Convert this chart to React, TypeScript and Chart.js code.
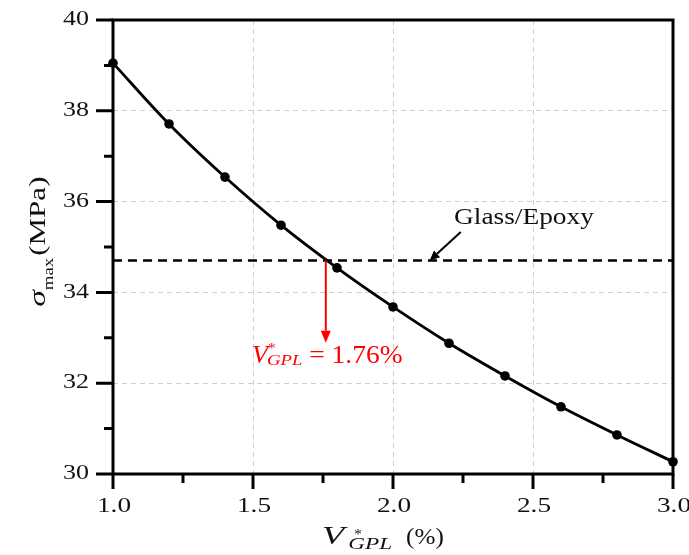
import React, { useEffect, useRef } from "react";
import { Chart, registerables } from "chart.js";

Chart.register(...registerables);

// ---- data ----
const volumeFractions = [1.0, 1.2, 1.4, 1.6, 1.8, 2.0, 2.2, 2.4, 2.6, 2.8, 3.0];
const sigmaMax = [39.05, 37.71, 36.54, 35.48, 34.54, 33.68, 32.88, 32.16, 31.48, 30.86, 30.27];
const glassEpoxyLevel = 34.7;
const criticalFraction = 1.76;
const criticalArrowEnd = 32.89;
const xTicks = [1.0, 1.5, 2.0, 2.5, 3.0];
const xTickLabels = ["1.0", "1.5", "2.0", "2.5", "3.0"];
const xMinorTicks = [1.25, 1.75, 2.25, 2.75];
const yTicks = [30, 32, 34, 36, 38, 40];
const yTickLabels = ["30", "32", "34", "36", "38", "40"];
const yMinorTicks = [31, 33, 35, 37, 39];
const glassLabel = "Glass/Epoxy";
const criticalLabelValue = "1.76%";

const SERIF = "'Liberation Serif', 'Times New Roman', serif";
const TEXT = "#111";

type Piece = {
  t: string;
  size: number;
  italic?: boolean;
  dy?: number;
  dx?: number;
  sx?: number;
  noAdvance?: boolean;
};

function drawRich(ctx: CanvasRenderingContext2D, pieces: Piece[], x: number, y: number, color: string) {
  let cx = x;
  for (const p of pieces) {
    ctx.save();
    ctx.font = `${p.italic ? "italic " : ""}${p.size}px ${SERIF}`;
    const sx = p.sx ?? 1;
    ctx.translate(cx + (p.dx ?? 0), y + (p.dy ?? 0));
    ctx.scale(sx, 1);
    ctx.fillStyle = color;
    ctx.textBaseline = "alphabetic";
    ctx.textAlign = "left";
    ctx.fillText(p.t, 0, 0);
    const w = ctx.measureText(p.t).width * sx;
    ctx.restore();
    if (!p.noAdvance) cx += w + (p.dx ?? 0);
  }
}

function drawStretched(
  ctx: CanvasRenderingContext2D,
  text: string,
  x: number,
  y: number,
  size: number,
  sx: number,
  align: CanvasTextAlign,
  baseline: CanvasTextBaseline,
  color: string
) {
  ctx.save();
  ctx.font = `${size}px ${SERIF}`;
  ctx.translate(x, y);
  ctx.scale(sx, 1);
  ctx.textAlign = align;
  ctx.textBaseline = baseline;
  ctx.fillStyle = color;
  ctx.fillText(text, 0, 0);
  ctx.restore();
}

function arrow(
  ctx: CanvasRenderingContext2D,
  x1: number,
  y1: number,
  x2: number,
  y2: number,
  color: string,
  width: number,
  headLen: number,
  headHalf: number
) {
  const ang = Math.atan2(y2 - y1, x2 - x1);
  const bx = x2 - headLen * Math.cos(ang);
  const by = y2 - headLen * Math.sin(ang);
  ctx.save();
  ctx.strokeStyle = color;
  ctx.fillStyle = color;
  ctx.lineWidth = width;
  ctx.setLineDash([]);
  ctx.beginPath();
  ctx.moveTo(x1, y1);
  ctx.lineTo(bx, by);
  ctx.stroke();
  ctx.beginPath();
  ctx.moveTo(x2, y2);
  ctx.lineTo(bx + headHalf * Math.sin(ang), by - headHalf * Math.cos(ang));
  ctx.lineTo(bx - headHalf * Math.sin(ang), by + headHalf * Math.cos(ang));
  ctx.closePath();
  ctx.fill();
  ctx.restore();
}

const framePlugin = {
  id: "frame",
  beforeDatasetsDraw(chart: any) {
    const { ctx, chartArea } = chart;
    const xs = chart.scales.x;
    const ys = chart.scales.y;
    const { left, right, top, bottom } = chartArea;
    ctx.save();
    ctx.strokeStyle = "#000";
    ctx.lineWidth = 3;
    ctx.setLineDash([]);
    ctx.strokeRect(left, top, right - left, bottom - top);
    ctx.beginPath();
    for (const v of yTicks) {
      const py = ys.getPixelForValue(v);
      ctx.moveTo(left - 17, py);
      ctx.lineTo(left, py);
    }
    for (const v of yMinorTicks) {
      const py = ys.getPixelForValue(v);
      ctx.moveTo(left - 9, py);
      ctx.lineTo(left, py);
    }
    for (const v of xTicks) {
      const px = xs.getPixelForValue(v);
      ctx.moveTo(px, bottom);
      ctx.lineTo(px, bottom + 15);
    }
    for (const v of xMinorTicks) {
      const px = xs.getPixelForValue(v);
      ctx.moveTo(px, bottom);
      ctx.lineTo(px, bottom + 9);
    }
    ctx.stroke();
    ctx.restore();

    yTicks.forEach((v, i) => {
      drawStretched(ctx, yTickLabels[i], left - 24, ys.getPixelForValue(v), 20, 1.3, "right", "middle", TEXT);
    });
    xTicks.forEach((v, i) => {
      drawStretched(ctx, xTickLabels[i], xs.getPixelForValue(v) + 1, bottom + 38, 21, 1.3, "center", "alphabetic", TEXT);
    });

    // x axis title
    drawRich(
      ctx,
      [
        { t: "V", size: 26, italic: true, sx: 1.4 },
        { t: "*", size: 15, dy: -5, dx: 10, noAdvance: true },
        { t: "GPL", size: 16, italic: true, sx: 1.45, dy: 5, dx: 4 },
        { t: "(%)", size: 24, sx: 1.05, dx: 14 },
      ],
      322,
      544,
      TEXT
    );

    // y axis title (rotated)
    ctx.save();
    ctx.translate(44.5, 306.7);
    ctx.rotate(-Math.PI / 2);
    drawRich(
      ctx,
      [
        { t: "σ", size: 24, italic: true, sx: 1.4 },
        { t: "max", size: 15, sx: 1.25, dy: 8.5 },
        { t: "(MPa)", size: 23, sx: 1.35, dx: 2 },
      ],
      0,
      0,
      TEXT
    );
    ctx.restore();
  },
  afterDraw(chart: any) {
    const { ctx } = chart;
    const xs = chart.scales.x;
    const ys = chart.scales.y;
    const ax = xs.getPixelForValue(criticalFraction);
    arrow(ctx, ax, ys.getPixelForValue(glassEpoxyLevel), ax, ys.getPixelForValue(criticalArrowEnd), "#ff0000", 2, 12, 5);
    drawRich(
      ctx,
      [
        { t: "V", size: 25, italic: true, sx: 1.05 },
        { t: "*", size: 15, dy: -10, dx: 0, noAdvance: true },
        { t: "GPL", size: 15, italic: true, sx: 1.25, dy: 2.5, dx: -1 },
        { t: " = " + criticalLabelValue, size: 25, sx: 1.1 },
      ],
      xs.getPixelForValue(1.496),
      ys.getPixelForValue(32.45),
      "#ff0000"
    );
    drawStretched(ctx, glassLabel, xs.getPixelForValue(2.218), ys.getPixelForValue(35.5), 23, 1.19, "left", "alphabetic", TEXT);
    arrow(
      ctx,
      xs.getPixelForValue(2.242),
      ys.getPixelForValue(35.33),
      xs.getPixelForValue(2.131),
      ys.getPixelForValue(glassEpoxyLevel),
      "#000",
      2,
      10,
      4.5
    );
  },
};

export default function App() {
  const ref = useRef<HTMLCanvasElement | null>(null);
  useEffect(() => {
    if (!ref.current) return;
    const chart = new Chart(ref.current, {
      type: "line",
      data: {
        datasets: [
          {
            label: "Glass/Epoxy",
            data: [
              { x: xTicks[0], y: glassEpoxyLevel },
              { x: xTicks[xTicks.length - 1], y: glassEpoxyLevel },
            ],
            borderColor: "#000",
            borderWidth: 2.5,
            borderDash: [9, 6],
            pointRadius: 0,
            fill: false,
            clip: false as any,
          },
          {
            label: "sigma",
            data: volumeFractions.map((x, i) => ({ x, y: sigmaMax[i] })),
            borderColor: "#000",
            borderWidth: 2.8,
            pointRadius: 4.8,
            pointBackgroundColor: "#000",
            pointBorderColor: "#000",
            pointBorderWidth: 0,
            cubicInterpolationMode: "monotone",
            fill: false,
            clip: false as any,
          },
        ],
      },
      plugins: [framePlugin],
      options: {
        animation: false,
        responsive: false,
        devicePixelRatio: 1,
        layout: { padding: { left: 113, right: 16, top: 20, bottom: 81 } },
        plugins: { legend: { display: false }, tooltip: { enabled: false } },
        events: [],
        scales: {
          x: {
            type: "linear",
            min: 1,
            max: 3,
            afterBuildTicks: (s: any) => {
              s.ticks = xTicks.map((v) => ({ value: v }));
            },
            afterFit: (s: any) => {
              s.height = 0;
            },
            ticks: { display: false },
            border: { display: false, dash: [5, 4] },
            grid: { color: "#cfcfcf", lineWidth: 1, drawTicks: false },
          },
          y: {
            type: "linear",
            min: 30,
            max: 40,
            afterBuildTicks: (s: any) => {
              s.ticks = yTicks.map((v) => ({ value: v }));
            },
            afterFit: (s: any) => {
              s.width = 0;
            },
            ticks: { display: false },
            border: { display: false, dash: [5, 4] },
            grid: { color: "#cfcfcf", lineWidth: 1, drawTicks: false },
          },
        },
      } as any,
    });
    return () => chart.destroy();
  }, []);
  return (
    <div style={{ position: "absolute", left: 0, top: 0, width: 689, height: 555, background: "#fff" }}>
      <canvas ref={ref} width={689} height={555} style={{ display: "block" }} />
    </div>
  );
}
